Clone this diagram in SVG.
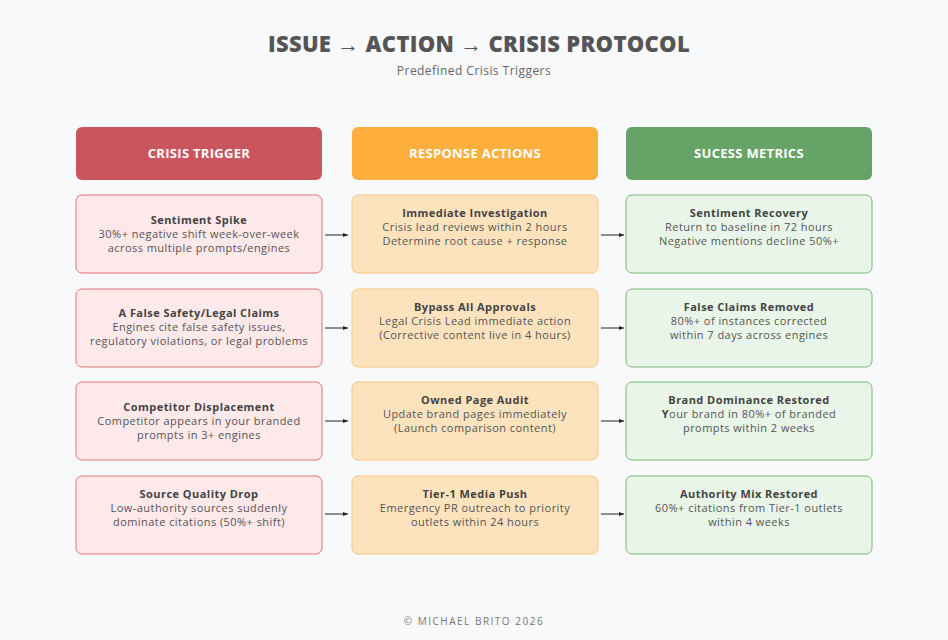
<svg xmlns="http://www.w3.org/2000/svg" width="948" height="640" viewBox="0 0 948 640">
<style>
.t{font-family:"Open Sans","Noto Sans",sans-serif;font-size:11px;fill:#555;text-anchor:middle;letter-spacing:0.45px}
.b{font-weight:700;fill:#444}
.h{font-family:"Open Sans",sans-serif;font-size:13px;font-weight:700;fill:#fff;text-anchor:middle;letter-spacing:0.3px}
.r{fill:#fde8ea;stroke:#e0737b;stroke-width:1}
.o{fill:#fce3be;stroke:#f9c77e;stroke-width:1}
.g{fill:#e9f5e8;stroke:#79b877;stroke-width:1}
.c{stroke:#222;stroke-width:1;fill:none;marker-end:url(#a)}
</style>
<defs><marker id="a" markerWidth="6" markerHeight="6" refX="5" refY="3" orient="auto" markerUnits="userSpaceOnUse"><path d="M0,1 L5,3 L0,5z" fill="#222"/></marker></defs>
<rect width="948" height="640" fill="#f8f9fb"/>
<text x="479" y="52" style="font-family:'Open Sans',sans-serif;font-size:22px;font-weight:800;fill:#555;text-anchor:middle;letter-spacing:0.3px">ISSUE <tspan style="font-weight:400">→</tspan> ACTION <tspan style="font-weight:400">→</tspan> CRISIS PROTOCOL</text>
<text x="474" y="75" class="t" style="font-size:12px;fill:#666">Predefined Crisis Triggers</text>
<g id="h1"><rect x="76" y="127" width="246" height="53" rx="6" fill="#c9565c"/><text x="199" y="158" class="h">CRISIS TRIGGER</text></g>
<g id="h2"><rect x="352" y="127" width="246" height="53" rx="6" fill="#fdae3c"/><text x="475" y="158" class="h">RESPONSE ACTIONS</text></g>
<g id="h3"><rect x="626" y="127" width="246" height="53" rx="6" fill="#65a366"/><text x="749" y="158" class="h">SUCESS METRICS</text></g>

<g id="r1c1"><rect class="r" x="76" y="195" width="246" height="78" rx="6"/><text class="t b" x="199" y="224">Sentiment Spike</text><text class="t" x="199" y="238">30%+ negative shift week-over-week</text><text class="t" x="199" y="252">across multiple prompts/engines</text></g>
<g id="r1c2"><rect class="o" x="352" y="195" width="246" height="78" rx="6"/><text class="t b" x="475" y="217">Immediate Investigation</text><text class="t" x="475" y="231">Crisis lead reviews within 2 hours</text><text class="t" x="475" y="245">Determine root cause + response</text></g>
<g id="r1c3"><rect class="g" x="626" y="195" width="246" height="78" rx="6"/><text class="t b" x="749" y="217">Sentiment Recovery</text><text class="t" x="749" y="231">Return to baseline in 72 hours</text><text class="t" x="749" y="245">Negative mentions decline 50%+</text></g>

<g id="r2c1"><rect class="r" x="76" y="289" width="246" height="78" rx="6"/><text class="t b" x="199" y="317">A False Safety/Legal Claims</text><text class="t" x="199" y="331">Engines cite false safety issues,</text><text class="t" x="199" y="345">regulatory violations, or legal problems</text></g>
<g id="r2c2"><rect class="o" x="352" y="289" width="246" height="78" rx="6"/><text class="t b" x="475" y="311">Bypass All Approvals</text><text class="t" x="475" y="325">Legal Crisis Lead immediate action</text><text class="t" x="475" y="339">(Corrective content live in 4 hours)</text></g>
<g id="r2c3"><rect class="g" x="626" y="289" width="246" height="78" rx="6"/><text class="t b" x="749" y="311">False Claims Removed</text><text class="t" x="749" y="325">80%+ of instances corrected</text><text class="t" x="749" y="339">within 7 days across engines</text></g>

<g id="r3c1"><rect class="r" x="76" y="382" width="246" height="78" rx="6"/><text class="t b" x="199" y="411">Competitor Displacement</text><text class="t" x="199" y="425">Competitor appears in your branded</text><text class="t" x="199" y="439">prompts in 3+ engines</text></g>
<g id="r3c2"><rect class="o" x="352" y="382" width="246" height="78" rx="6"/><text class="t b" x="475" y="404">Owned Page Audit</text><text class="t" x="475" y="418">Update brand pages immediately</text><text class="t" x="475" y="432">(Launch comparison content)</text></g>
<g id="r3c3"><rect class="g" x="626" y="382" width="246" height="78" rx="6"/><text class="t b" x="749" y="404">Brand Dominance Restored</text><text class="t" x="749" y="418"><tspan class="b">Y</tspan>our brand in 80%+ of branded</text><text class="t" x="749" y="432">prompts within 2 weeks</text></g>

<g id="r4c1"><rect class="r" x="76" y="476" width="246" height="78" rx="6"/><text class="t b" x="199" y="498">Source Quality Drop</text><text class="t" x="199" y="512">Low-authority sources suddenly</text><text class="t" x="199" y="526">dominate citations (50%+ shift)</text></g>
<g id="r4c2"><rect class="o" x="352" y="476" width="246" height="78" rx="6"/><text class="t b" x="475" y="498">Tier-1 Media Push</text><text class="t" x="475" y="512">Emergency PR outreach to priority</text><text class="t" x="475" y="526">outlets within 24 hours</text></g>
<g id="r4c3"><rect class="g" x="626" y="476" width="246" height="78" rx="6"/><text class="t b" x="749" y="498">Authority Mix Restored</text><text class="t" x="749" y="512">60%+ citations from Tier-1 outlets</text><text class="t" x="749" y="526">within 4 weeks</text></g>

<g id="connectors">
<line class="c" x1="325" y1="235" x2="348" y2="235"/><line class="c" x1="601" y1="235" x2="624" y2="235"/>
<line class="c" x1="325" y1="328" x2="348" y2="328"/><line class="c" x1="601" y1="328" x2="624" y2="328"/>
<line class="c" x1="325" y1="421" x2="348" y2="421"/><line class="c" x1="601" y1="421" x2="624" y2="421"/>
<line class="c" x1="325" y1="514" x2="348" y2="514"/><line class="c" x1="601" y1="514" x2="624" y2="514"/>
</g>
<text x="474" y="625" class="t" style="font-size:10px;letter-spacing:1.5px;fill:#777">© MICHAEL BRITO 2026</text>
</svg>
